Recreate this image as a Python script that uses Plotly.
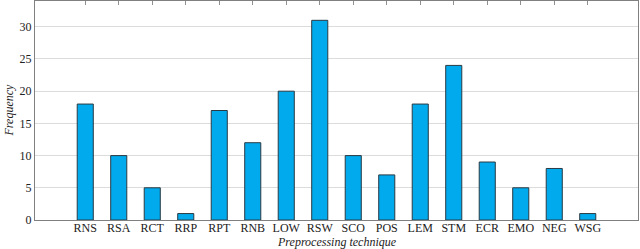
import plotly.graph_objects as go

categories = ["RNS", "RSA", "RCT", "RRP", "RPT", "RNB", "LOW", "RSW", "SCO", "POS",
              "LEM", "STM", "ECR", "EMO", "NEG", "WSG"]
frequency = [18, 10, 5, 1, 17, 12, 20, 31, 10, 7, 18, 24, 9, 5, 8, 1]
y_ticks = [0, 5, 10, 15, 20, 25, 30]

font_family = "Liberation Serif, DejaVu Serif, serif"
txt = "#222"

fig = go.Figure(go.Bar(
    x=categories, y=frequency, width=0.48,
    marker=dict(color="rgb(0,170,236)", line=dict(color="#2a3a44", width=1)),
))

fig.update_layout(
    width=640, height=249,
    margin=dict(l=35, r=2, t=1, b=29, autoexpand=False),
    paper_bgcolor="white", plot_bgcolor="white",
    showlegend=False,
    font=dict(family=font_family, size=12, color=txt),
    xaxis=dict(
        type="category", range=[-1.5, 16.5], automargin=False,
        showline=True, linecolor="#808080", linewidth=1.3, mirror="ticks",
        ticks="inside", ticklen=4, tickcolor="#909090",
        showgrid=False, layer="below traces", ticklabelstandoff=-4,
        tickfont=dict(family=font_family, size=12, color=txt),
    ),
    yaxis=dict(
        range=[0, 34], tickvals=y_ticks, automargin=False,
        showline=True, linecolor="#808080", linewidth=1.3, mirror=True,
        ticks="", showgrid=True, gridcolor="#dcdcdc", gridwidth=1,
        zeroline=False, layer="below traces",
        tickfont=dict(family=font_family, size=12, color=txt),
    ),
    annotations=[
        dict(text="<i>Preprocessing technique</i>", xref="paper", yref="paper",
             x=0.5, y=0, yshift=-22, xanchor="center", yanchor="middle",
             showarrow=False, font=dict(family=font_family, size=12, color=txt)),
        dict(text="<i>Frequency</i>", xref="paper", yref="paper",
             x=0, xshift=-27, y=0.5, textangle=-90, xanchor="center", yanchor="middle",
             showarrow=False, font=dict(family=font_family, size=12, color=txt)),
    ],
)

fig.write_html("out.html", config={"displayModeBar": False},
               post_script="document.body.style.margin='0';")
